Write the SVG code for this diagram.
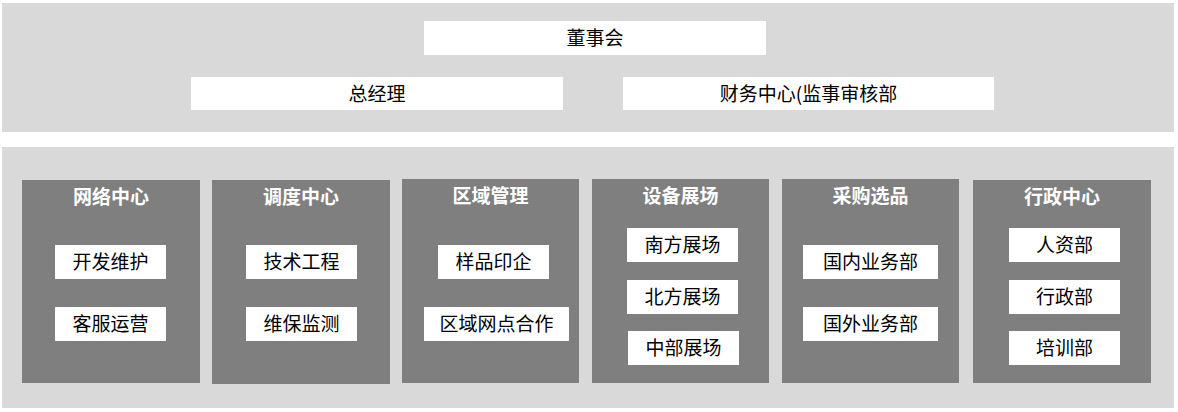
<svg xmlns="http://www.w3.org/2000/svg" width="1178" height="412" viewBox="0 0 1178 412">
<style>
.panel{fill:#d9d9d9}
.col{fill:#7f7f7f}
.box{fill:#ffffff}
.t{font-family:"Noto Sans CJK SC","Liberation Sans",sans-serif;font-size:19px;fill:#000;text-anchor:middle;dominant-baseline:central}
.h{font-family:"Noto Sans CJK SC","Liberation Sans",sans-serif;font-size:19px;font-weight:bold;fill:#fff;text-anchor:middle;dominant-baseline:central}
</style>
<rect width="1178" height="412" fill="#ffffff"/>
<rect class="panel" x="2" y="3" width="1172" height="129"/>
<rect class="panel" x="2" y="147" width="1172" height="261"/>
<g id="connectors"></g>
<g id="board"><rect class="box" x="424" y="21" width="342" height="34"/><text class="t" x="595" y="36.5">董事会</text></g>
<g id="gm"><rect class="box" x="191" y="77" width="372" height="33"/><text class="t" x="377" y="92">总经理</text></g>
<g id="finance"><rect class="box" x="623" y="77" width="371" height="33"/><text class="t" x="808.5" y="92">财务中心(监事审核部</text></g>

<g id="col1"><rect class="col" x="22" y="180" width="178" height="203"/><text class="h" x="111" y="195.5">网络中心</text>
<rect class="box" x="55" y="245" width="111" height="34"/><text class="t" x="110.5" y="260.5">开发维护</text>
<rect class="box" x="55" y="307" width="111" height="34"/><text class="t" x="110.5" y="322.5">客服运营</text></g>

<g id="col2"><rect class="col" x="212" y="180" width="178" height="204"/><text class="h" x="301" y="195.5">调度中心</text>
<rect class="box" x="246" y="245" width="111" height="34"/><text class="t" x="301.5" y="260.5">技术工程</text>
<rect class="box" x="246" y="307" width="111" height="34"/><text class="t" x="301.5" y="322.5">维保监测</text></g>

<g id="col3"><rect class="col" x="402" y="179" width="177" height="204"/><text class="h" x="490.5" y="194.5">区域管理</text>
<rect class="box" x="438" y="245" width="111" height="34"/><text class="t" x="493.5" y="260.5">样品印企</text>
<rect class="box" x="424" y="307" width="145" height="34"/><text class="t" x="496.5" y="322.5">区域网点合作</text></g>

<g id="col4"><rect class="col" x="592" y="179" width="177" height="204"/><text class="h" x="680.5" y="194.5">设备展场</text>
<rect class="box" x="627" y="228" width="111" height="34"/><text class="t" x="682.5" y="243.5">南方展场</text>
<rect class="box" x="627" y="280" width="111" height="34"/><text class="t" x="682.5" y="295.5">北方展场</text>
<rect class="box" x="628" y="331" width="111" height="34"/><text class="t" x="683.5" y="346.5">中部展场</text></g>

<g id="col5"><rect class="col" x="782" y="179" width="177" height="204"/><text class="h" x="870.5" y="194.5">采购选品</text>
<rect class="box" x="803" y="245" width="135" height="34"/><text class="t" x="870.5" y="260.5">国内业务部</text>
<rect class="box" x="803" y="307" width="135" height="34"/><text class="t" x="870.5" y="322.5">国外业务部</text></g>

<g id="col6"><rect class="col" x="973" y="180" width="178" height="203"/><text class="h" x="1062" y="195.5">行政中心</text>
<rect class="box" x="1009" y="228" width="111" height="34"/><text class="t" x="1064.5" y="243.5">人资部</text>
<rect class="box" x="1009" y="280" width="111" height="34"/><text class="t" x="1064.5" y="295.5">行政部</text>
<rect class="box" x="1009" y="331" width="111" height="34"/><text class="t" x="1064.5" y="346.5">培训部</text></g>
</svg>
